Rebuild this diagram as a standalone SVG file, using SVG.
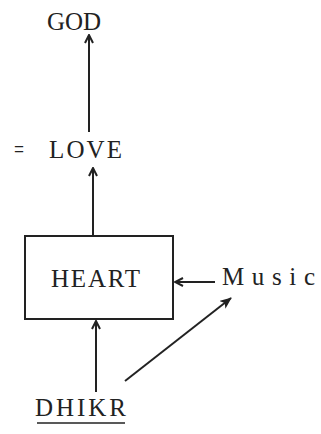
<svg xmlns="http://www.w3.org/2000/svg" width="321" height="434" viewBox="0 0 321 434">
<style>
text{font-family:"Liberation Serif","Times New Roman",serif;font-size:25px;fill:#222}
.c{stroke:#222;stroke-width:2;fill:none}
</style>
<defs>
<marker id="open" viewBox="0 0 10 10" refX="9" refY="5" markerWidth="10" markerHeight="10" markerUnits="userSpaceOnUse" orient="auto">
<path d="M1,1 L9,5 L1,9" fill="none" stroke="#222" stroke-width="2"/>
</marker>
<marker id="solid" viewBox="0 0 12 10" refX="11" refY="5" markerWidth="12" markerHeight="10" markerUnits="userSpaceOnUse" orient="auto">
<path d="M0,0 L12,5 L0,10 L3,5 Z" fill="#222"/>
</marker>
</defs>
<rect width="321" height="434" fill="#fff"/>
<g id="connectors">
<line class="c" x1="89" y1="132" x2="89" y2="35" marker-end="url(#open)"/>
<line class="c" x1="93" y1="235" x2="93" y2="168" marker-end="url(#open)"/>
<line class="c" x1="215" y1="282" x2="175" y2="282" marker-end="url(#open)"/>
<line class="c" x1="96" y1="392" x2="96" y2="321" marker-end="url(#open)"/>
<line class="c" x1="125" y1="381" x2="231" y2="298" stroke-width="2.5" marker-end="url(#solid)"/>
</g>
<g id="god"><text x="47" y="30" textLength="54" lengthAdjust="spacing">GOD</text></g>
<g id="love"><text x="14" y="158" font-size="20" textLength="10" lengthAdjust="spacingAndGlyphs">=</text><text x="49" y="158" textLength="73" lengthAdjust="spacing">LOVE</text></g>
<g id="heart">
<rect x="25" y="236" width="148" height="83" class="c"/>
<text x="51" y="287" textLength="89" lengthAdjust="spacing">HEART</text>
</g>
<g id="music"><text x="222" y="285" textLength="93" lengthAdjust="spacing">Music</text></g>
<g id="dhikr">
<text x="35" y="416" textLength="91" lengthAdjust="spacing">DHIKR</text>
<line x1="37" y1="423" x2="125" y2="423" stroke="#222" stroke-width="1.5"/>
</g>
</svg>
